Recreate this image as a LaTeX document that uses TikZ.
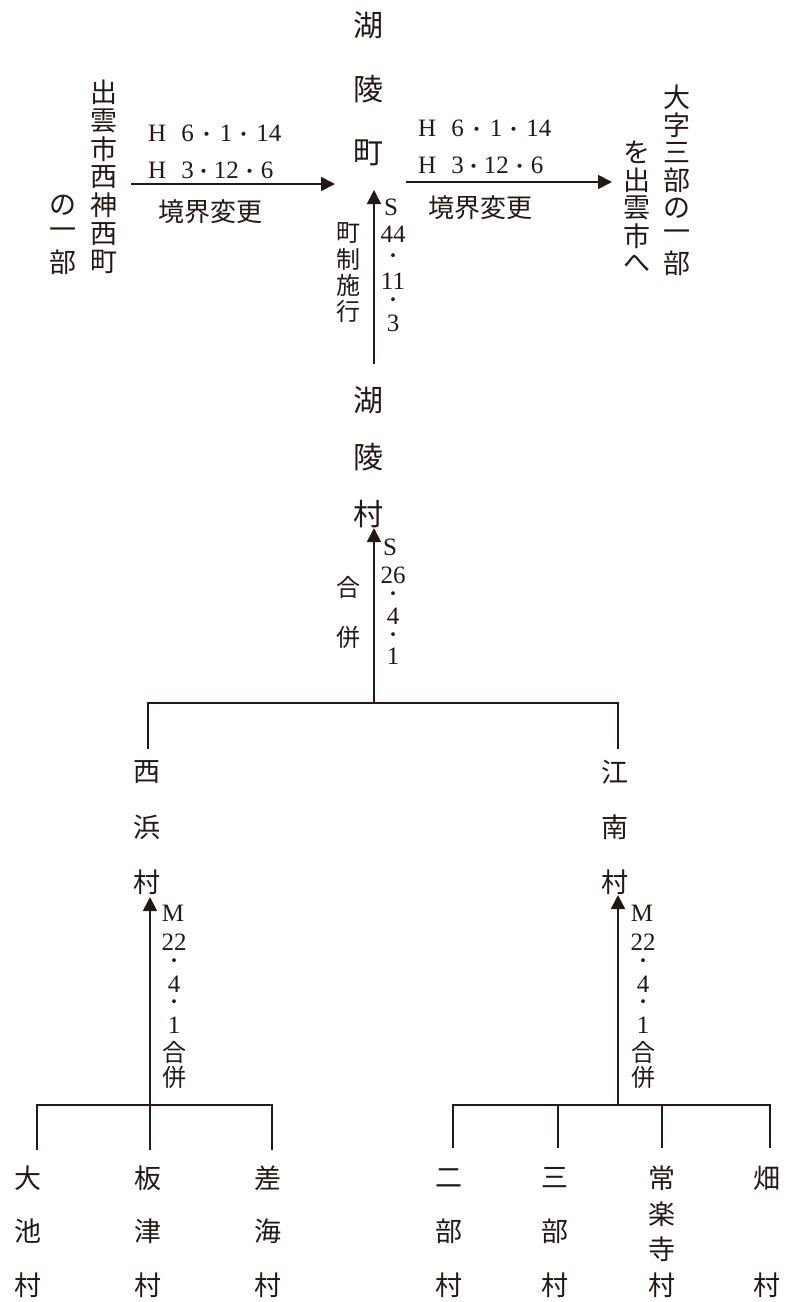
\documentclass[tikz,border=0pt]{standalone}
\usepackage{fontspec}
\newfontfamily\cjk{Noto Sans CJK JP}
\newfontfamily\numf{Liberation Serif}
\usetikzlibrary{arrows.meta}
\definecolor{ink}{HTML}{231815}
\newcommand\jd[1]{\makebox[#1]{\cjk\fontsize{19}{19}\selectfont ・}}
\newcommand\vcol[6]{%
  \foreach \ch [count=\i] in {#6}
    \node[#2] (#1\i) at (#3, {#4+#5*(\i-1)}) {\ch};}
\tikzset{
  big/.style={font=\cjk\fontsize{30}{30}\selectfont, inner sep=0pt, text=ink},
  mid/.style={font=\cjk\fontsize{27}{27}\selectfont, inner sep=0pt, text=ink},
  sml/.style={font=\cjk\fontsize{24}{24}\selectfont, inner sep=0pt, text=ink},
  lab/.style={font=\cjk\fontsize{26}{26}\selectfont, inner sep=0pt, text=ink},
  num/.style={font=\numf\fontsize{25}{25}\selectfont, inner sep=0pt, text=ink},
  dotn/.style={font=\cjk\fontsize{18}{18}\selectfont, inner sep=0pt, text=ink},
  ln/.style={line width=1.7pt, draw=ink},
  arr/.style={ln, -{Triangle[length=14pt,width=14pt]}, fill=ink},
}
\begin{document}
\begin{tikzpicture}[x=1pt,y=-1pt]
\useasboundingbox (0,0) rectangle (786,1302);
% ---- top row
\vcol{kt}{big}{368}{25}{64}{湖,陵,町}
\vcol{la}{mid}{104}{92}{28.4}{出,雲,市,西,神,西,町}
\vcol{lb}{mid}{63}{205.6}{28.4}{の,一,部}
\vcol{ra}{mid}{677}{97}{27.8}{大,字,三,部,の,一,部}
\vcol{rb}{mid}{637}{152.6}{27.8}{を,出,雲,市,へ}
\coordinate (lA) at (131,184);
\coordinate (lB) at (335,184);
\draw[arr] (lA) -- (lB);
\coordinate (rA) at (406,182);
\coordinate (rB) at (612,182);
\draw[arr] (rA) -- (rB);
\node[num, anchor=west] (ld1) at (148,133) {H\hspace{15pt}6\jd{26pt}1\jd{24pt}14};
\node[num, anchor=west] (ld2) at (148,170) {H\hspace{15pt}3\jd{20pt}12\jd{22pt}6};
\node[lab] (lk) at (210,212) {境界変更};
\node[num, anchor=west] (rd1) at (418,128) {H\hspace{15pt}6\jd{26pt}1\jd{24pt}14};
\node[num, anchor=west] (rd2) at (418,165) {H\hspace{15pt}3\jd{20pt}12\jd{22pt}6};
\node[lab] (rk) at (480,208) {境界変更};
% ---- town establishment
\coordinate (tA) at (374,364);
\coordinate (tB) at (374,190);
\draw[arr] (tA) -- (tB);
\node[num] (s1) at (391,207) {S};
\node[num] (s2) at (393,234) {44};
\node[dotn] (s3) at (393,258) {・};
\node[num] (s4) at (393,281) {11};
\node[dotn] (s5) at (393,302) {・};
\node[num] (s6) at (393,323) {3};
\vcol{ts}{sml}{348}{233}{26}{町,制,施,行}
% ---- village
\vcol{kv}{big}{368}{400}{57}{湖,陵,村}
\coordinate (jA) at (374,703);
\coordinate (jB) at (374,528);
\draw[arr] (jA) -- (jB);
\node[num] (u1) at (390,547) {S};
\node[num] (u2) at (393,575) {26};
\node[dotn] (u3) at (393,596) {・};
\node[num] (u4) at (393,616) {4};
\node[dotn] (u5) at (393,637) {・};
\node[num] (u6) at (393,656) {1};
\vcol{ug}{sml}{348}{587}{50}{合,併}
\coordinate (jL) at (148,749);
\coordinate (jR) at (618,749);
\draw[ln] (jL) -- (148,703) -- (618,703) -- (jR);
% ---- Nishihama / Konan
\vcol{nh}{mid}{147}{772}{55}{西,浜,村}
\vcol{kn}{mid}{615}{772}{55}{江,南,村}
\coordinate (nA) at (150,1105);
\coordinate (nB) at (150,897);
\draw[arr] (nA) -- (nB);
\coordinate (kA) at (618,1105);
\coordinate (kB) at (618,895);
\draw[arr] (kA) -- (kB);
\foreach \dx/\nm in {174/nm, 643/km} {
  \node[num] (\nm1) at (\dx-1,913) {M};
  \node[num] (\nm2) at (\dx,942) {22};
  \node[dotn] (\nm3) at (\dx,963) {・};
  \node[num] (\nm4) at (\dx,984) {4};
  \node[dotn] (\nm5) at (\dx,1004) {・};
  \node[num] (\nm6) at (\dx,1025) {1};
  \node[sml] (\nm7) at (\dx,1052) {合};
  \node[sml] (\nm8) at (\dx,1077) {併};
}
% ---- bottom trees
\draw[ln] (37,1150) -- (37,1105) -- (272,1105) -- (272,1150);
\draw[ln] (nA) -- (150,1150);
\draw[ln] (453,1148) -- (453,1105) -- (770,1105) -- (770,1148);
\draw[ln] (558,1105) -- (558,1148);
\draw[ln] (662,1105) -- (662,1148);
\vcol{oi}{mid}{28}{1178}{53.5}{大,池,村}
\vcol{it}{mid}{148}{1178}{53.5}{板,津,村}
\vcol{sa}{mid}{268}{1178}{53.5}{差,海,村}
\vcol{nb}{mid}{449}{1178}{53.5}{二,部,村}
\vcol{sb}{mid}{555}{1178}{53.5}{三,部,村}
\vcol{jr}{mid}{662}{1178}{35.7}{常,楽,寺,村}
\node[mid] (ha1) at (767,1178) {畑};
\node[mid] (ha2) at (767,1285) {村};
\end{tikzpicture}
\end{document}
